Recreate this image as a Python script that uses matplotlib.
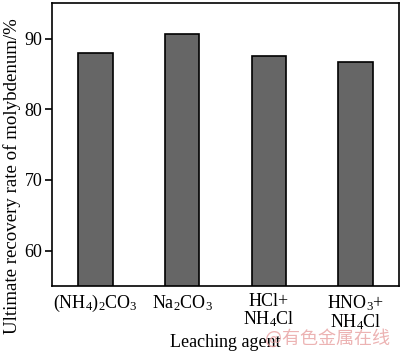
import matplotlib
matplotlib.use("Agg")
import matplotlib.pyplot as plt

plt.rcParams['font.family'] = ['Liberation Serif', 'DejaVu Serif']
plt.rcParams['mathtext.fontset'] = 'custom'
plt.rcParams['mathtext.rm'] = 'Liberation Serif'
plt.rcParams['mathtext.it'] = 'Liberation Serif:italic'

# data
agents = ['(NH$_4$)$_2$CO$_3$', 'Na$_2$CO$_3$', 'HCl+\nNH$_4$Cl', 'HNO$_3$+\nNH$_4$Cl']
recovery = [88.0, 90.7, 87.5, 86.7]
yticks = [60, 70, 80, 90]

fig = plt.figure(figsize=(4.0, 3.52), dpi=100)
ax = fig.add_axes([0.13, 0.1875, 0.8675, 0.8035])

x = list(range(len(agents)))
ax.bar(x, recovery, width=0.4, color='#666666', edgecolor='black', linewidth=1.2)

ax.set_xlim(-0.5, 3.5)
ax.set_ylim(55, 95)
ax.set_yticks(yticks)
ax.set_xticks(x)
ax.set_xticklabels(agents, fontsize=13, linespacing=0.95)
ax.tick_params(axis='x', length=0, pad=5)
ax.tick_params(axis='y', direction='out', length=5, width=1.2, labelsize=13, pad=2)
for s in ax.spines.values():
    s.set_linewidth(1.2)

# y label spans nearly the full figure height
fig.text(0.03, 0.5, 'Ultimate recovery rate of molybdenum/%', fontsize=13.6,
         rotation=90, ha='center', va='center')
ax.set_xlabel('Leaching agent', fontsize=13, labelpad=2)

# watermark
fig.text(0.82, 0.04, '@有色金属在线', fontsize=13, color='#e8a0a0', alpha=0.8,
         ha='center', va='center', family=['Noto Sans CJK SC', 'DejaVu Sans'])

fig.savefig('out.png', dpi=100)
